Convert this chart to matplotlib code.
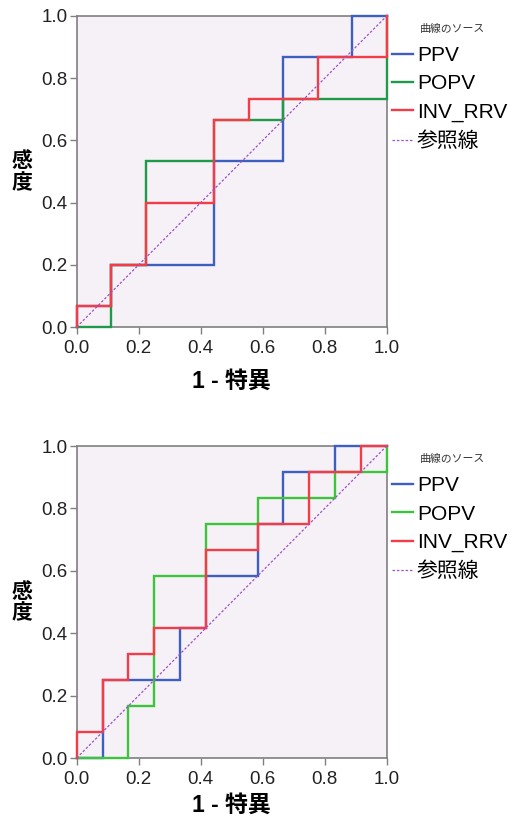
import matplotlib
matplotlib.use("Agg")
import matplotlib.pyplot as plt

plt.rcParams['font.family'] = ['Liberation Sans', 'Noto Sans CJK JP', 'DejaVu Sans']

# ---- data (ROC staircase points: 1 - specificity, sensitivity) ----
series_names = ["PPV", "POPV", "INV_RRV"]
ref_name = "参照線"
legend_title = "曲線のソース"
xlabel = "1 - 特異"
ylabel = "感度"
ticks = [0.0, 0.2, 0.4, 0.6, 0.8, 1.0]

top_ppv_x = [0, 0, 1/9, 1/9, 4/9, 4/9, 6/9, 6/9, 8/9, 8/9, 1]
top_ppv_y = [0, 1/15, 1/15, 3/15, 3/15, 8/15, 8/15, 13/15, 13/15, 1, 1]
top_popv_x = [0, 1/9, 1/9, 2/9, 2/9, 4/9, 4/9, 6/9, 6/9, 1, 1]
top_popv_y = [0, 0, 3/15, 3/15, 8/15, 8/15, 10/15, 10/15, 11/15, 11/15, 1]
top_inv_x = [0, 0, 1/9, 1/9, 2/9, 2/9, 4/9, 4/9, 5/9, 5/9, 7/9, 7/9, 1, 1]
top_inv_y = [0, 1/15, 1/15, 3/15, 3/15, 6/15, 6/15, 10/15, 10/15, 11/15, 11/15, 13/15, 13/15, 1]

bot_ppv_x = [0, 1/12, 1/12, 4/12, 4/12, 5/12, 5/12, 7/12, 7/12, 8/12, 8/12, 10/12, 10/12, 1]
bot_ppv_y = [0, 0, 3/12, 3/12, 5/12, 5/12, 7/12, 7/12, 9/12, 9/12, 11/12, 11/12, 1, 1]
bot_popv_x = [0, 2/12, 2/12, 3/12, 3/12, 5/12, 5/12, 7/12, 7/12, 10/12, 10/12, 1, 1]
bot_popv_y = [0, 0, 2/12, 2/12, 7/12, 7/12, 9/12, 9/12, 10/12, 10/12, 11/12, 11/12, 1]
bot_inv_x = [0, 0, 1/12, 1/12, 2/12, 2/12, 3/12, 3/12, 5/12, 5/12, 7/12, 7/12, 9/12, 9/12, 11/12, 11/12, 1]
bot_inv_y = [0, 1/12, 1/12, 3/12, 3/12, 4/12, 4/12, 5/12, 5/12, 8/12, 8/12, 9/12, 9/12, 11/12, 11/12, 1, 1]

ref_x = [0, 1]
ref_y = [0, 1]

W, H = 515, 822
fig = plt.figure(figsize=(W/100, H/100), dpi=100)

def make_ax(top_px, bottom_px):
    left, right = 76.7, 386.7
    return fig.add_axes([left/W, 1 - bottom_px/H, (right-left)/W, (bottom_px-top_px)/H])

def style(ax, xlab_y):
    ax.set_facecolor('#f6f1f6')
    ax.set_xlim(0, 1)
    ax.set_ylim(0, 1)
    ax.set_xticks(ticks)
    ax.set_yticks(ticks)
    ax.set_xticklabels([f"{t:.1f}" for t in ticks])
    ax.set_yticklabels([f"{t:.1f}" for t in ticks])
    for s in ax.spines.values():
        s.set_color('#808080')
        s.set_linewidth(1.2)
    ax.tick_params(direction='out', length=5, width=1, color='#808080',
                   labelsize=13.5, labelcolor='#222222')
    ax.tick_params(axis='x', pad=4.5)
    ax.tick_params(axis='y', pad=1.5)
    ax.set_xlabel(xlabel, fontsize=16.5, fontweight='bold', va='center',
                  family=['Liberation Sans', 'Noto Sans CJK JP'])
    ax.xaxis.set_label_coords(0.5, xlab_y)
    ax.set_ylabel("感\n度", fontsize=15, fontweight='bold', rotation=0,
                  va='center', ha='center', linespacing=1.05,
                  family=['Noto Sans CJK JP'])
    ax.yaxis.set_label_coords(-0.178, 0.5)

configs = [
    ((16, 327), -0.176, [(top_ppv_x, top_ppv_y, '#3e5fbf'),
                         (top_popv_x, top_popv_y, '#1e9a48'),
                         (top_inv_x, top_inv_y, '#f23c48')]),
    ((446, 758), -0.152, [(bot_ppv_x, bot_ppv_y, '#3e5fbf'),
                          (bot_popv_x, bot_popv_y, '#3cc43c'),
                          (bot_inv_x, bot_inv_y, '#f23c48')]),
]

for (tp, bp), xlab_y, series in configs:
    ax = make_ax(tp, bp)
    style(ax, xlab_y)
    handles = []
    for (xs, ys, c), name in zip(series, series_names):
        ln, = ax.plot(xs, ys, color=c, lw=1.7, clip_on=False, label=name, zorder=3,
                      solid_joinstyle='miter')
        handles.append(ln)
    rl, = ax.plot(ref_x, ref_y, color='#a050c8', lw=0.9, ls=(0, (2, 1.5)),
                  label=ref_name, zorder=4)
    handles.append(rl)
    leg = ax.legend(handles=handles, loc='center left',
                    bbox_to_anchor=(1.017, 0.735), frameon=False, fontsize=15,
                    handlelength=1.0, handletextpad=0.2,
                    labelspacing=0.45, borderaxespad=0.0, borderpad=0.0)
    for t in leg.get_texts():
        t.set_family(['Liberation Sans', 'Noto Sans CJK JP'])
    ax.text(1.212, 0.96, legend_title, transform=ax.transAxes, fontsize=7.8,
            ha='center', va='center', color='#333333', family=['Noto Sans CJK JP'])

fig.savefig("out.png", dpi=100)
